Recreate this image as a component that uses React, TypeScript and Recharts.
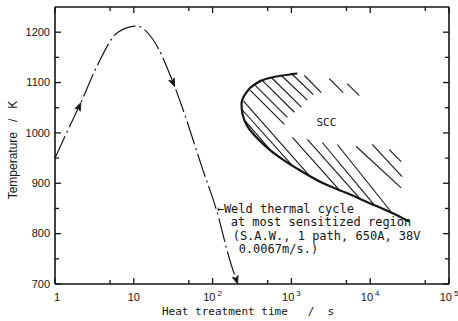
import React from 'react';
import {
  LineChart,
  Line,
  XAxis,
  YAxis,
  ReferenceLine,
  ReferenceDot,
  Label,
} from 'recharts';

// heat treatment time (s), log axis
const timeTicks = [1, 5, 10, 50, 100, 500, 1000, 5000, 10000, 50000, 100000];
const majorTimes = [1, 10, 100, 1000, 10000, 100000];
const timeLabelBase = ['1', '10', '10', '10', '10', '10'];
const timeLabelExp = ['', '', '2', '3', '4', '5'];

// temperature (K)
const tempTicks = [700, 750, 800, 850, 900, 950, 1000, 1050, 1100, 1150, 1200];
const tempLabels = [700, 800, 900, 1000, 1100, 1200];

// weld thermal cycle
const cycleTime = [1, 1.41, 2.13, 3.4, 6.3, 11, 17.4, 33, 42, 75, 112, 165, 208];
const cycleTemp = [950, 1001, 1060, 1132, 1200, 1212, 1186, 1092, 1047, 927, 847, 748, 700];
const cycleArrowAt = [2, 7, 12];

// SCC nose boundary, upper branch -> nose -> lower branch
const sccTime = [1191, 769, 497, 340, 262, 233, 240, 277, 371, 527, 815, 1377, 2618, 4966, 9705, 19000, 31200];
const sccTemp = [1118, 1114, 1108, 1096, 1078, 1057, 1037, 1013, 989, 967, 945, 923, 899, 881, 861, 841, 824];

// hatching: [t1, T1, t2, T2]
const hatchSegments: [number, number, number, number][] = [
  [262, 1023, 592, 959],
  [240, 1045, 1030, 935],
  [247, 1063, 1690, 915],
  [286, 1088, 815, 1017],
  [340, 1096, 889, 1031],
  [430, 1104, 1091, 1041],
  [558, 1110, 1339, 1051],
  [747, 1114, 1594, 1065],
  [1000, 1118, 1898, 1076],
  [1462, 1114, 2399, 1080],
  [3027, 1108, 4550, 1080],
  [5117, 1098, 7261, 1074],
  [1030, 991, 4052, 887],
  [1594, 987, 7261, 871],
  [2467, 981, 11240, 857],
  [3823, 977, 18500, 843],
  [6650, 973, 24700, 891],
  [10600, 977, 25400, 913],
  [17400, 967, 24700, 943],
];

const cycleData = cycleTime.map((t, i) => ({ t, temp: cycleTemp[i] }));
const sccData = sccTime.map((t, i) => ({ t, temp: sccTemp[i] }));

const INK = '#141414';
const SANS = "'Liberation Sans', Arial, sans-serif";
const MONO = "'DejaVu Sans Mono', monospace";

const W = 458;
const H = 321;
const LEFT = 55;
const RIGHT = 9;
const TOP = 7;
const BOTTOM = 37;
const PX_PER_DECADE = (W - LEFT - RIGHT) / 5;
const PX_PER_K = (H - TOP - BOTTOM) / 550;

const TimeTick = ({ x, y, payload, side }: any) => {
  const i = majorTimes.indexOf(payload.value);
  const len = i >= 0 ? 6 : 4;
  const dir = side === 'bottom' ? -1 : 1;
  return (
    <g>
      <line x1={x} y1={y} x2={x} y2={y + dir * len} stroke={INK} strokeWidth={1.3} />
      {side === 'bottom' && i >= 0 && (
        <text x={i === 0 ? x + 2 : x} y={y + 17} textAnchor="middle" fontFamily={SANS} fontSize={11} fill={INK}>
          {timeLabelBase[i]}
          {timeLabelExp[i] && (
            <tspan dx={2} dy={-5} fontSize={8}>
              {timeLabelExp[i]}
            </tspan>
          )}
        </text>
      )}
    </g>
  );
};

const TempTick = ({ x, y, payload, side }: any) => {
  const major = tempLabels.includes(payload.value);
  const len = major ? 6 : 4;
  const dir = side === 'left' ? 1 : -1;
  return (
    <g>
      <line x1={x} y1={y} x2={x + dir * len} y2={y} stroke={INK} strokeWidth={1.3} />
      {side === 'left' && major && (
        <text x={x - 5} y={y} dy="0.35em" textAnchor="end" fontFamily={SANS} fontSize={11} fill={INK}>
          {payload.value}
        </text>
      )}
    </g>
  );
};

const XTitle = ({ viewBox }: any) => {
  const vb = viewBox || { x: LEFT, y: H - BOTTOM, width: W - LEFT - RIGHT };
  return (
    <text x={vb.x + 107} y={vb.y + 31} fontFamily={MONO} fontSize={11} fill={INK} style={{ whiteSpace: 'pre' }}>
      Heat treatment time   /  s
    </text>
  );
};

const YTitle = () => (
  <text
    x={13}
    y={150}
    transform="rotate(-90 13 150)"
    textAnchor="middle"
    dy="0.35em"
    fontFamily={SANS}
    fontSize={12}
    fill={INK}
    style={{ whiteSpace: 'pre' }}
  >
    Temperature   /   K
  </text>
);

const WeldNote = ({ viewBox }: any) => {
  const x = viewBox?.x ?? 218;
  const y = viewBox?.y ?? 210;
  const lines = ['\u2190Weld thermal cycle', 'at most sensitized region', '(S.A.W., 1 path, 650A, 38V', '0.0067m/s.)'];
  const dx = [0, 14, 16, 22];
  const dy = [0, 13, 27, 40];
  return (
    <g>
      {lines.map((s, i) => (
        <text key={i} x={x + dx[i]} y={y + dy[i]} dy="0.35em" fontFamily={MONO} fontSize={12} fill={INK} style={{ whiteSpace: 'pre' }}>
          {s}
        </text>
      ))}
    </g>
  );
};

const SccNote = ({ viewBox }: any) => (
  <text x={viewBox?.x ?? 328} y={viewBox?.y ?? 124} dy="0.35em" textAnchor="middle" fontFamily={MONO} fontSize={11} fill={INK}>
    SCC
  </text>
);

const renderArrow = (props: any) => {
  const { cx, cy, index } = props;
  if (!cycleArrowAt.includes(index)) return <g key={`a-${index}`} />;
  const i0 = Math.max(index - 1, 0);
  const i1 = Math.min(index + 1, cycleTime.length - 1);
  const dx = (Math.log10(cycleTime[i1]) - Math.log10(cycleTime[i0])) * PX_PER_DECADE;
  const dy = -(cycleTemp[i1] - cycleTemp[i0]) * PX_PER_K;
  const ang = (Math.atan2(dy, dx) * 180) / Math.PI;
  return (
    <path
      key={`a-${index}`}
      d="M0,0 L-8,-3 L-6,0 L-8,3 Z"
      transform={`translate(${cx},${cy}) rotate(${ang})`}
      fill={INK}
      stroke={INK}
      strokeWidth={0.8}
    />
  );
};

export default function App() {
  return (
    <div style={{ position: 'absolute', left: 0, top: 0, width: W, height: H, background: '#fff' }}>
      <LineChart width={W} height={H} margin={{ top: 0, right: 0, bottom: 0, left: 0 }}>
        <XAxis
          dataKey="t"
          type="number"
          scale="log"
          domain={[1, 100000]}
          ticks={timeTicks}
          interval={0}
          tickSize={0}
          tickMargin={0}
          tickLine={false}
          tick={(p: any) => <TimeTick {...p} side="bottom" />}
          axisLine={{ stroke: INK, strokeWidth: 1.6 }}
          height={BOTTOM}
          allowDataOverflow
        >
          <Label content={XTitle} />
        </XAxis>
        <XAxis
          xAxisId="top"
          orientation="top"
          dataKey="t"
          type="number"
          scale="log"
          domain={[1, 100000]}
          ticks={timeTicks}
          interval={0}
          tickSize={0}
          tickMargin={0}
          tickLine={false}
          tick={(p: any) => <TimeTick {...p} side="top" />}
          axisLine={{ stroke: INK, strokeWidth: 1.6 }}
          height={TOP}
          allowDataOverflow
        />
        <YAxis
          type="number"
          domain={[700, 1250]}
          ticks={tempTicks}
          interval={0}
          tickSize={0}
          tickMargin={0}
          tickLine={false}
          tick={(p: any) => <TempTick {...p} side="left" />}
          axisLine={{ stroke: INK, strokeWidth: 1.6 }}
          width={LEFT}
          allowDataOverflow
        >
          <Label content={YTitle} />
        </YAxis>
        <YAxis
          yAxisId="right"
          orientation="right"
          type="number"
          domain={[700, 1250]}
          ticks={tempTicks}
          interval={0}
          tickSize={0}
          tickMargin={0}
          tickLine={false}
          tick={(p: any) => <TempTick {...p} side="right" />}
          axisLine={{ stroke: INK, strokeWidth: 1.6 }}
          width={RIGHT}
          allowDataOverflow
        />

        {hatchSegments.map(([t1, T1, t2, T2], i) => (
          <ReferenceLine
            key={`h-${i}`}
            segment={[
              { x: t1, y: T1 },
              { x: t2, y: T2 },
            ]}
            stroke={INK}
            strokeWidth={1.1}
            ifOverflow="visible"
          />
        ))}

        <Line
          data={sccData}
          dataKey="temp"
          type="monotoneY"
          stroke={INK}
          strokeWidth={2.2}
          dot={false}
          activeDot={false}
          isAnimationActive={false}
        />
        <Line
          data={cycleData}
          dataKey="temp"
          type="monotone"
          stroke={INK}
          strokeWidth={1.2}
          strokeDasharray="24 4 2 4"
          dot={renderArrow}
          activeDot={false}
          isAnimationActive={false}
        />

        <ReferenceDot x={116} y={847} r={1} fill="none" stroke="none" ifOverflow="visible" label={<WeldNote />} />
        <ReferenceDot x={2860} y={1019} r={1} fill="none" stroke="none" ifOverflow="visible" label={<SccNote />} />
      </LineChart>
    </div>
  );
}
